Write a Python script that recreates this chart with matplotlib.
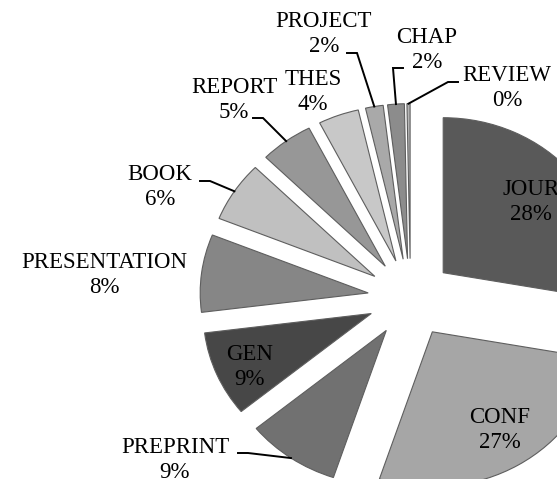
import numpy as np
import matplotlib
matplotlib.use("Agg")
import matplotlib.pyplot as plt

# ============ DATA ============
categories = ["JOUR", "CONF", "PREPRINT", "GEN", "PRESENTATION", "BOOK",
              "REPORT", "THES", "PROJECT", "CHAP", "REVIEW"]
shares = [27.8, 27.3, 9.0, 8.9, 8.1, 6.3, 5.1, 3.9, 1.7, 1.6, 0.3]

# ============ STYLE / LAYOUT ============
colors = ["#595959", "#a6a6a6", "#717171", "#474747", "#868686", "#c0c0c0",
          "#979797", "#c8c8c8", "#a9a9a9", "#8c8c8c", "#b4b4b4"]
EXPLODE = 0.254
W, H = 557, 479
X0, Y0 = 410.5, 298.0      # pie centre in the picture (pixels)
SX, SY = 168.0, 155.0      # pixels per unit radius (picture is stretched sideways)


def px(x, y):
    return ((x - X0) / SX, (Y0 - y) / SY)


# label block centres (pixels)
label_pos = {
    "JOUR": (531, 202), "CONF": (500, 430), "PREPRINT": (175, 460),
    "GEN": (250, 367), "PRESENTATION": (104, 275), "BOOK": (160, 187),
    "REPORT": (234, 100), "THES": (313, 92), "PROJECT": (324, 34),
    "CHAP": (427, 50), "REVIEW": (507, 88),
}
# leader line start (pixels) and elbow direction
leader_start = {
    "PREPRINT": ((238, 453), 1), "BOOK": ((200, 181), 1),
    "REPORT": ((253, 118), 1), "PROJECT": ((347, 53), 1),
    "CHAP": ((403, 68), -1), "REVIEW": ((458, 82), -1),
}

plt.rcParams["font.family"] = ["Liberation Serif", "DejaVu Serif"]

fig = plt.figure(figsize=(W / 100, H / 100), dpi=100)
ax = fig.add_axes([0, 0, 1, 1])

wedges, _ = ax.pie(shares, explode=[EXPLODE] * len(shares), startangle=90,
                   counterclock=False, colors=colors, radius=1.0,
                   wedgeprops=dict(edgecolor="#5e5e5e", linewidth=0.8))

ax.set_aspect("auto")
ax.set_xlim((0 - X0) / SX, (W - X0) / SX)
ax.set_ylim((Y0 - H) / SY, Y0 / SY)
ax.axis("off")

total = sum(shares)
for name, val, w in zip(categories, shares, wedges):
    lx, ly = px(*label_pos[name])
    ax.text(lx, ly, f"{name}\n{val / total * 100:.0f}%", ha="center", va="center",
            fontsize=16.5, color="black", linespacing=1.3, multialignment="center")
    if name in leader_start:
        (sx, sy), side = leader_start[name]
        mid = np.deg2rad((w.theta1 + w.theta2) / 2)
        cx, cy = w.center
        ex, ey = cx + w.r * np.cos(mid), cy + w.r * np.sin(mid)
        p0 = px(sx, sy)
        p1 = px(sx + side * 10, sy)
        ax.plot([p0[0], p1[0], ex], [p0[1], p1[1], ey], color="black", lw=1.4,
                solid_joinstyle="miter")

fig.savefig("out.png", dpi=100)
